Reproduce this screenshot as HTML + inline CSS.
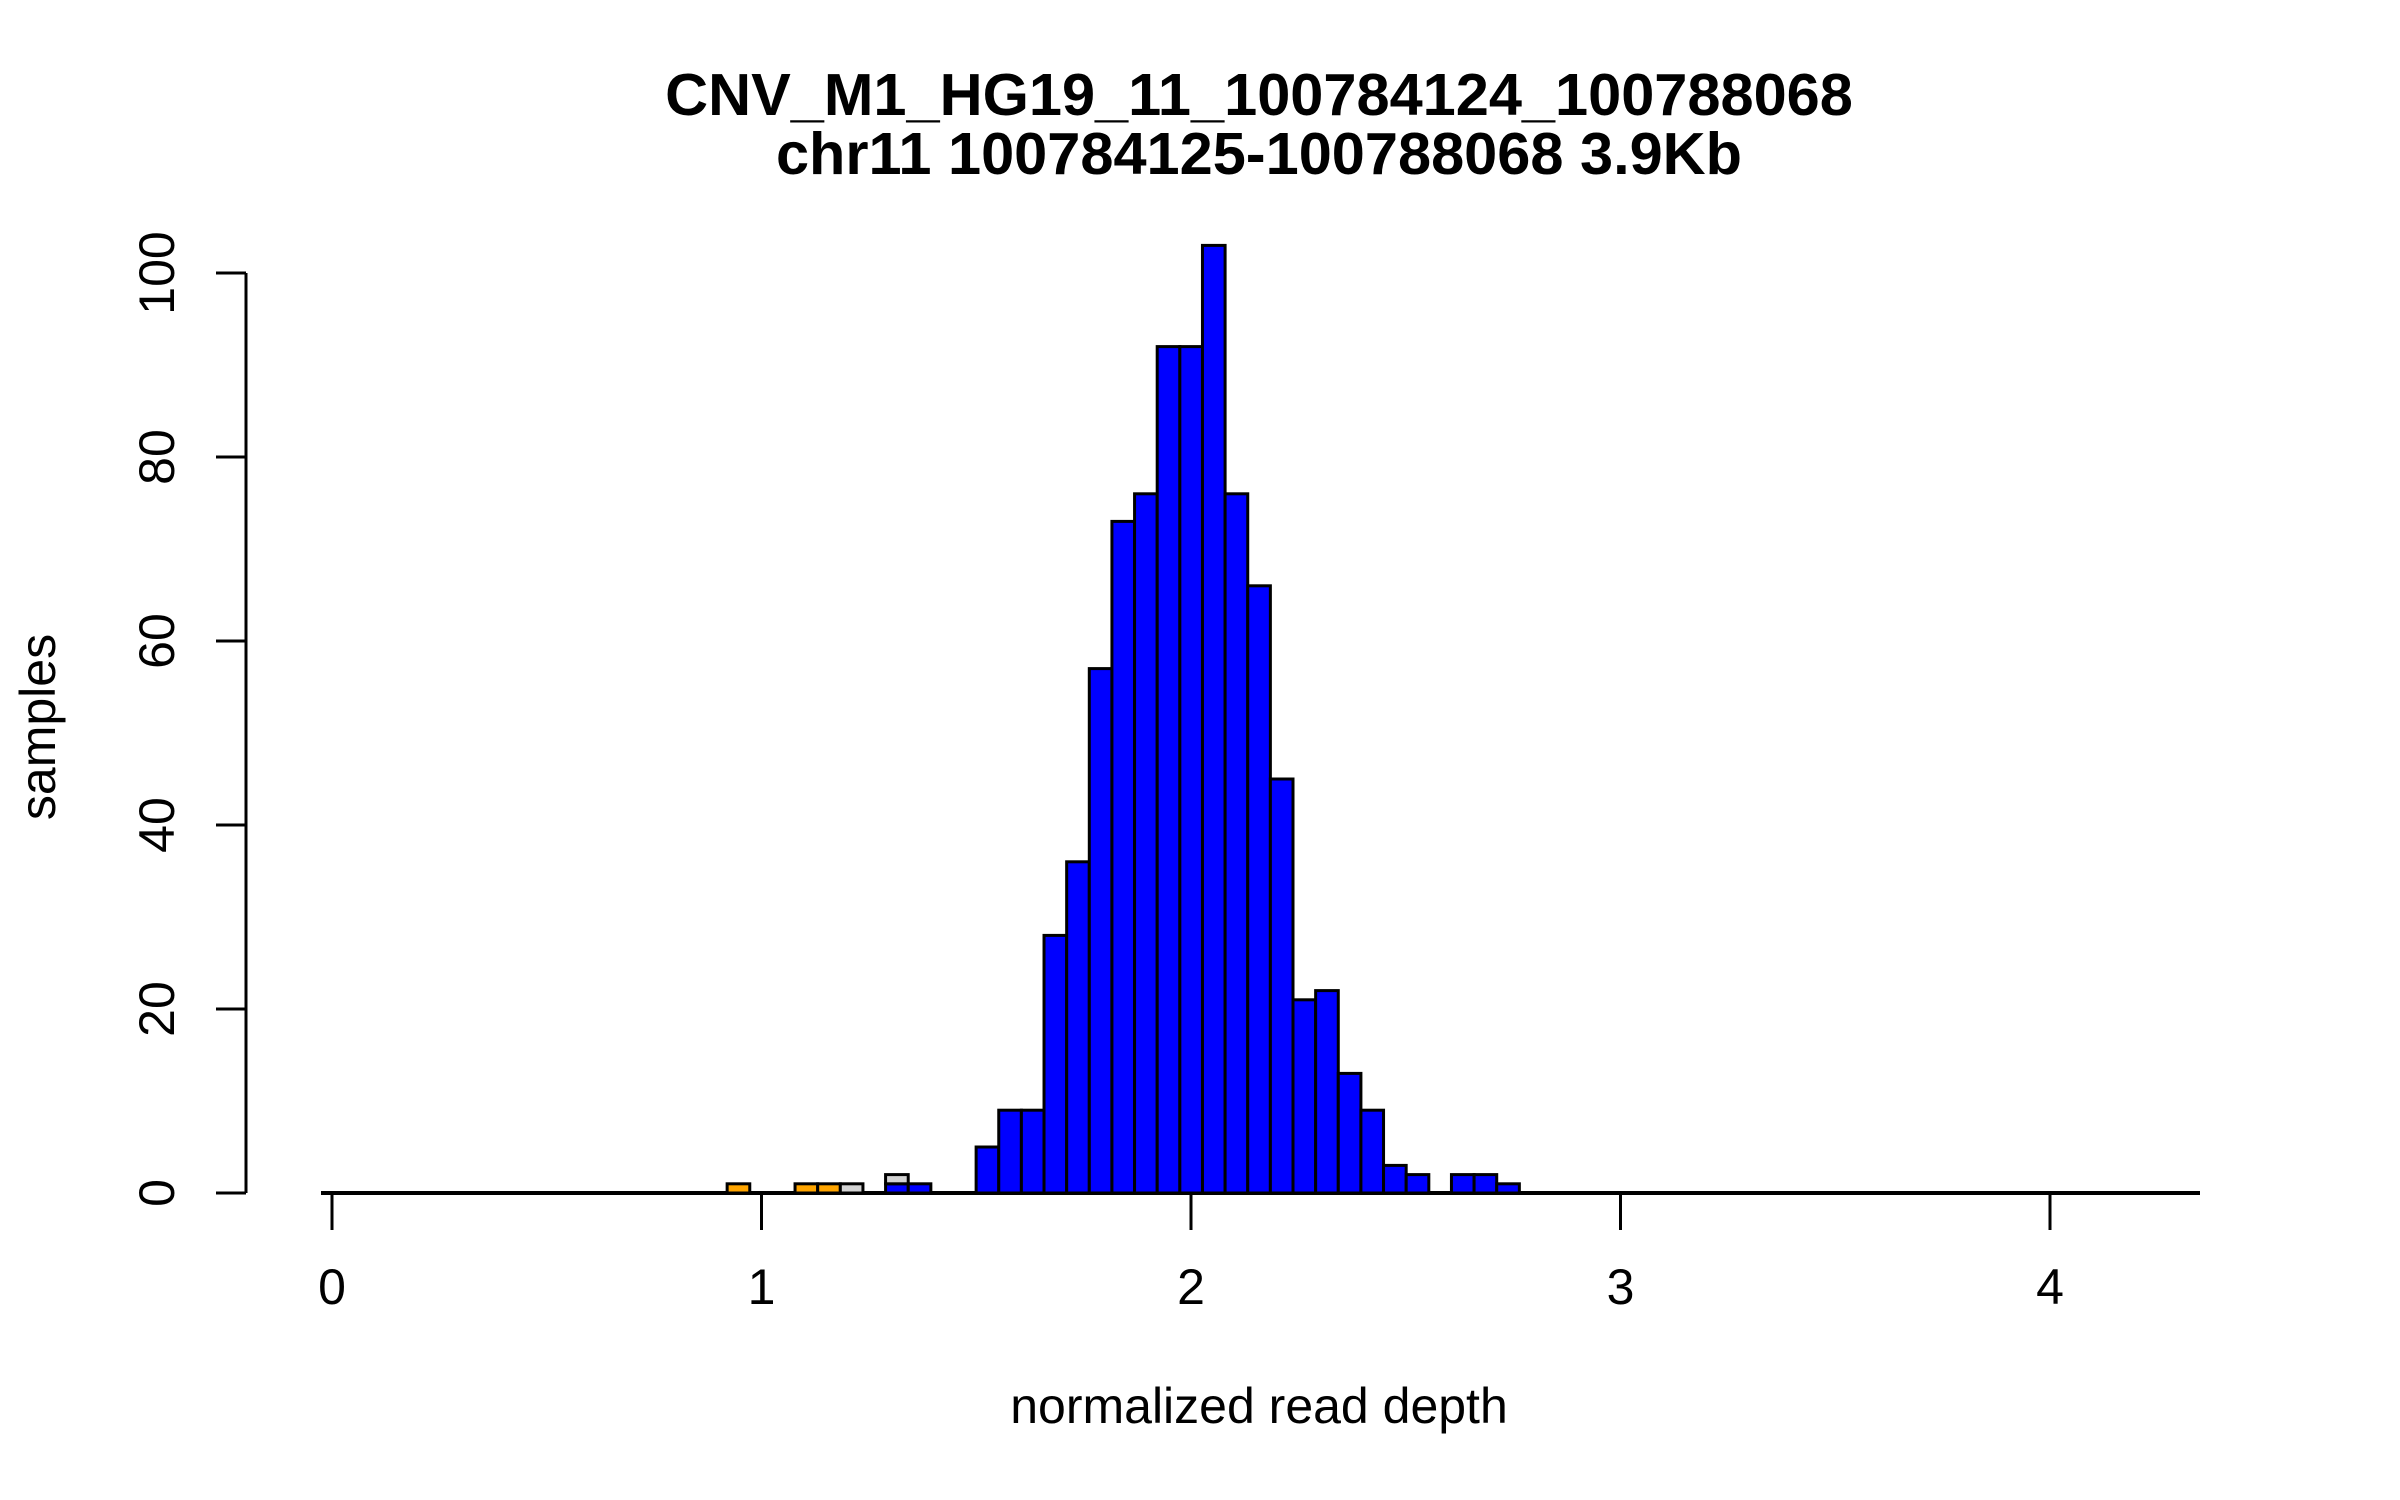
<!DOCTYPE html>
<html><head><meta charset="utf-8"><style>body{margin:0;background:#fff}svg{display:block}text{font-family:"Liberation Sans",sans-serif}</style></head>
<body>
<svg id="chart" width="2400" height="1500" viewBox="0 0 2400 1500" xmlns="http://www.w3.org/2000/svg">
<rect width="2400" height="1500" fill="#fff"/>
<text x="1259" y="115" font-size="59.5" font-weight="bold" text-anchor="middle">CNV_M1_HG19_11_100784124_100788068</text>
<text x="1259" y="174" font-size="59.5" font-weight="bold" text-anchor="middle">chr11 100784125-100788068 3.9Kb</text>
<text x="1259" y="1423" font-size="50" text-anchor="middle">normalized read depth</text>
<text transform="translate(55,727) rotate(-90)" font-size="50" text-anchor="middle">samples</text>
<g id="bars"></g>
<g id="axes"></g>
</svg>
<script>
const binStart = 0.92;
const binWidth = 0.0527;
const blueCounts = [0,0,0,0,0,0,0,1,1,0,0,5,9,9,28,36,57,73,76,92,92,103,76,66,45,21,22,13,9,3,2,0,2,2,1];
const orangeCounts = [1,0,0,1,1,0,0,0,0,0,0,0,0,0,0,0,0,0,0,0,0,0,0,0,0,0,0,0,0,0,0,0,0,0,0];
const grayCounts = [0,0,0,0,0,1,0,1,0,0,0,0,0,0,0,0,0,0,0,0,0,0,0,0,0,0,0,0,0,0,0,0,0,0,0];
const xTicks = [0,1,2,3,4];
const yTicks = [0,20,40,60,80,100];

const NS = 'http://www.w3.org/2000/svg';
const xs = v => 332 + v * 429.5;
const ys = v => 1193 - v * 9.2;
function mk(tag, attrs, parent) {
  const e = document.createElementNS(NS, tag);
  for (const k in attrs) e.setAttribute(k, attrs[k]);
  parent.appendChild(e);
  return e;
}
const bars = document.getElementById('bars');
const axes = document.getElementById('axes');

let bl = mk('line', {x1: 321, x2: 2200, y1: ys(0), y2: ys(0), stroke: '#000', 'stroke-width': 4}, bars);



for (let i = 0; i < blueCounts.length; i++) {
  const x0 = xs(binStart + i * binWidth), x1 = xs(binStart + (i + 1) * binWidth);
  let base = 0;
  const segs = [[blueCounts[i], '#0000ff', 'bar-blue'], [orangeCounts[i], '#ffa500', 'bar-orange'], [grayCounts[i], '#d3d3d3', 'bar-gray']];
  for (const [c, col, nm] of segs) {
    if (c <= 0) continue;
    const r = mk('rect', {x: x0, y: ys(base + c), width: x1 - x0, height: ys(base) - ys(base + c), fill: col, stroke: '#000', 'stroke-width': 3}, bars);
    
    
    base += c;
  }
}

let ya = mk('line', {x1: 246, x2: 246, y1: ys(0), y2: ys(100), stroke: '#000', 'stroke-width': 3}, axes);


for (const t of yTicks) {
  const l = mk('line', {x1: 216, x2: 246, y1: ys(t), y2: ys(t), stroke: '#000', 'stroke-width': 3}, axes);
  
  
  const tx = mk('text', {transform: 'translate(174,' + ys(t) + ') rotate(-90)', 'font-size': 50, 'text-anchor': 'middle'}, axes);
  tx.textContent = t;
  
  
}
for (const t of xTicks) {
  const l = mk('line', {x1: xs(t), x2: xs(t), y1: 1195, y2: 1230, stroke: '#000', 'stroke-width': 3}, axes);
  
  
  const tx = mk('text', {x: xs(t), y: 1304, 'font-size': 50, 'text-anchor': 'middle'}, axes);
  tx.textContent = t;
  
  
}
</script>
</body></html>
